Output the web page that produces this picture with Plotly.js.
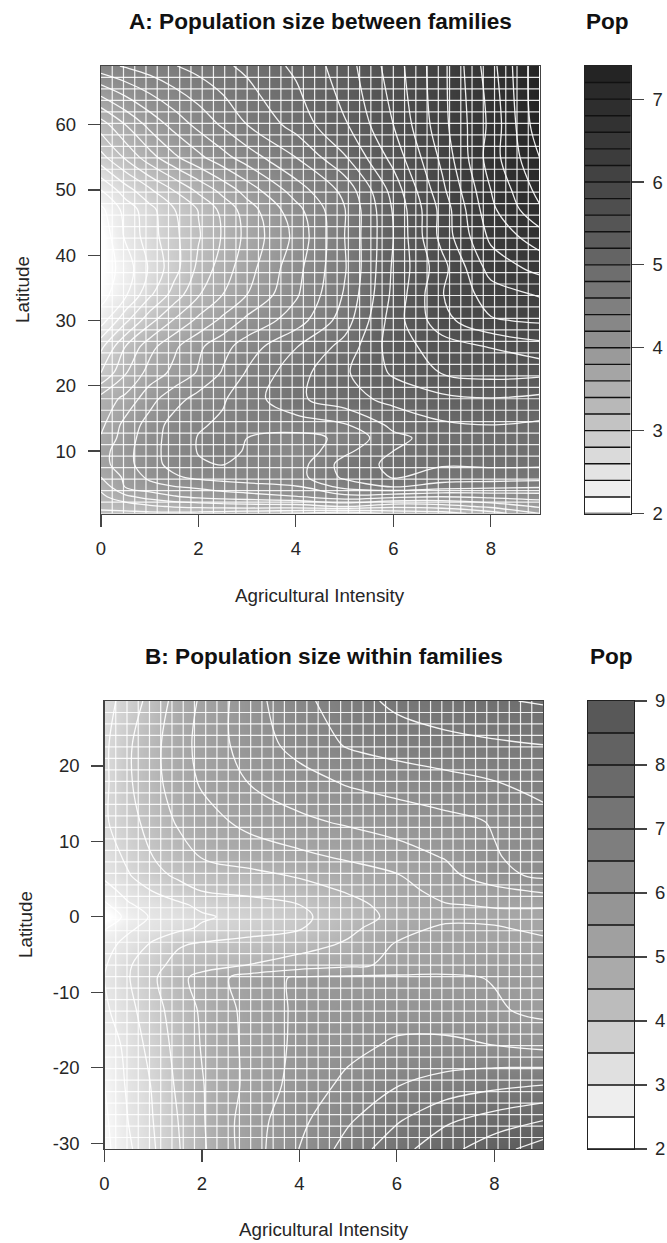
<!DOCTYPE html>
<html><head><meta charset="utf-8">
<script src="https://cdn.plot.ly/plotly-3.0.1.min.js"></script>
<style>html,body{margin:0;padding:0;background:#fff}</style></head>
<body><div id="chart" style="width:667px;height:1243px"></div>
<script>
// Panel A
var xA = [0,0.5,1,1.5,2,2.5,3,4,5,6,7,8,9];
var latA = [0.43,1.5,3,4.5,6,8,10,12,14,18,22,26,30,34,38,43,47,50,55,60,69];
var zA = [
[3.15,3.15,3.15,3.15,3.13,3.09,3.05,2.98,2.85,3.05,3.10,3.30,3.60],
[3.25,3.28,3.36,3.42,3.45,3.48,3.50,3.50,3.60,3.45,3.50,3.65,3.83],
[3.35,3.55,3.68,3.78,3.85,3.89,3.92,3.99,4.13,4.05,4.00,4.05,4.08],
[3.45,3.81,3.92,3.99,4.03,4.09,4.13,4.18,4.46,4.60,4.50,4.45,4.42],
[3.60,3.84,4.05,4.17,4.25,4.28,4.30,4.32,4.64,4.82,4.72,4.72,4.70],
[3.72,3.93,4.12,4.27,4.38,4.41,4.33,4.30,4.68,4.85,4.82,4.83,4.83],
[3.72,3.93,4.13,4.28,4.41,4.47,4.38,4.25,4.55,4.80,4.87,4.88,4.85],
[3.62,3.90,4.12,4.28,4.41,4.47,4.40,4.33,4.44,4.75,4.88,4.90,4.88],
[3.55,3.87,4.08,4.28,4.38,4.43,4.46,4.50,4.58,4.85,4.97,5.00,4.97],
[3.48,3.65,3.93,4.12,4.27,4.38,4.50,4.76,4.92,5.06,5.15,5.19,5.15],
[3.00,3.38,3.68,3.85,4.02,4.22,4.42,4.72,4.97,5.23,5.41,5.47,5.45],
[2.75,3.20,3.53,3.76,3.96,4.13,4.30,4.59,4.87,5.30,5.50,5.61,5.73],
[2.30,2.75,3.13,3.42,3.65,3.85,4.05,4.30,4.70,5.30,5.73,5.98,6.03],
[2.12,2.36,2.76,3.08,3.38,3.60,3.80,4.17,4.62,5.25,5.79,6.10,6.22],
[2.08,2.28,2.63,2.92,3.25,3.50,3.72,4.13,4.58,5.23,5.73,6.28,6.46],
[2.05,2.43,2.71,2.95,3.18,3.42,3.66,4.05,4.60,5.20,5.87,6.45,6.72],
[2.15,2.47,2.73,2.99,3.21,3.46,3.70,4.13,4.59,5.22,5.87,6.55,6.97],
[2.40,2.71,2.97,3.21,3.45,3.67,3.89,4.30,4.66,5.28,5.95,6.60,7.07],
[2.93,3.23,3.52,3.76,3.95,4.13,4.30,4.60,4.98,5.47,6.05,6.70,7.20],
[3.30,3.60,3.86,4.07,4.26,4.43,4.60,4.88,5.18,5.60,6.13,6.65,7.33],
[4.33,4.42,4.50,4.59,4.67,4.76,4.85,5.04,5.30,5.70,6.14,6.72,7.35]
];
var levelsA = [2,2.1,2.3,2.5,2.7,2.9,3.1,3.3,3.5,3.7,3.9,4.1,4.3,4.5,4.7,4.9,5.1,5.3,5.5,5.7,5.9,6.1,6.3,6.5,6.7,6.9,7.1,7.3,7.4];
var graysA  = [255,255,238,228,218,205,195,184,175,165,154,143,135,127,118,110,100,92,85,78,72,66,60,56,50,46,42,36,34];
var barTicksA = [2,3,4,5,6,7];

// Panel B
var xB = [0,0.5,1,1.5,2,3,4,5,6,7,8,9];
var latB = [-30.76,-27,-22.3,-17,-12.4,-8.1,-6.4,-3.7,-1.5,0,1.6,3.5,5.5,7.9,12.6,17.8,22.8,28.6];
var zB = [
[2.35,2.92,3.45,3.95,4.42,5.27,6.01,6.70,7.31,7.83,8.30,8.75],
[2.40,3.02,3.50,3.99,4.45,5.27,5.88,6.44,6.95,7.42,7.73,8.00],
[2.50,3.10,3.55,4.08,4.47,5.15,5.70,6.13,6.48,6.70,6.88,7.00],
[2.60,3.20,3.70,4.15,4.53,5.15,5.62,5.85,6.08,6.10,6.00,5.87],
[2.90,3.35,3.83,4.20,4.57,5.17,5.60,5.72,5.78,5.75,5.57,5.37],
[3.00,3.48,3.93,4.35,4.68,5.25,5.58,5.62,5.62,5.60,5.47,5.35],
[2.95,3.45,3.85,4.15,4.30,4.52,4.72,4.90,5.10,5.25,5.35,5.30],
[2.85,3.15,3.60,3.95,4.08,4.20,4.32,4.57,5.05,5.20,5.15,5.08],
[2.45,2.93,3.17,3.37,3.57,3.78,3.96,4.38,4.80,5.10,5.03,4.93],
[2.05,2.70,3.08,3.22,3.43,3.67,3.90,4.26,4.63,4.85,4.92,4.93],
[2.40,2.95,3.20,3.40,3.62,3.83,4.00,4.35,4.68,4.98,5.03,5.03],
[2.80,3.20,3.53,3.80,4.02,4.13,4.30,4.55,4.87,5.13,5.35,5.60],
[3.10,3.47,3.85,4.08,4.20,4.37,4.55,4.75,4.97,5.33,5.85,6.10],
[3.20,3.62,4.00,4.27,4.52,4.72,4.88,5.07,5.28,5.53,5.97,6.15],
[3.43,3.83,4.20,4.55,4.80,5.15,5.40,5.57,5.72,5.87,6.03,6.35],
[3.40,3.94,4.35,4.73,5.06,5.53,5.80,6.05,6.20,6.33,6.48,6.65],
[3.40,3.94,4.37,4.76,5.17,5.74,6.18,6.55,6.72,6.85,6.93,7.00],
[3.30,3.73,4.20,4.68,5.08,5.82,6.36,6.78,7.12,7.30,7.45,7.55]
];
var levelsB = [2,2.25,2.75,3.25,3.75,4.25,4.75,5.25,5.75,6.25,6.75,7.25,7.75,8.25,8.75,9];
var graysB  = [255,255,238,224,207,188,170,160,149,138,126,116,106,98,88,84];
var barTicksB = [2,3,4,5,6,7,8,9];

var xTicks = [0,2,4,6,8];
var latTicksA = [10,20,30,40,50,60];
var latTicksB = [-30,-20,-10,0,10,20];
var latLabelsB = ['-30','-20','-10','0','10','20'];
var GRID_CELLS = 39;

var W = 667, H = 1243, FONT = '"Liberation Sans", Arial, sans-serif', INK = '#262626';
function scale(levels, grays) {
  var lo = levels[0], hi = levels[levels.length-1];
  return levels.map(function(v,i){ var g = grays[i]; return [(v-lo)/(hi-lo),'rgb('+g+','+g+','+g+')']; });
}
function domX(a,b){ return [a/W,b/W]; }
function domY(top,bot){ return [1-bot/H,1-top/H]; }
function gridTrace(xr, yr, xa, ya) {
  var xs=[], ys=[], i, v;
  for (i=1;i<GRID_CELLS;i++){ v=xr[0]+(xr[1]-xr[0])*i/GRID_CELLS; xs.push(v,v,null); ys.push(yr[0],yr[1],null); }
  for (i=1;i<GRID_CELLS;i++){ v=yr[0]+(yr[1]-yr[0])*i/GRID_CELLS; xs.push(xr[0],xr[1],null); ys.push(v,v,null); }
  return {type:'scatter',mode:'lines',x:xs,y:ys,xaxis:xa,yaxis:ya,hoverinfo:'skip',showlegend:false,
          line:{color:'rgba(255,255,255,0.88)',width:1.2}};
}
function surface(x,y,z,cs,lo,hi,size,xa,ya){
  return {type:'contour',x:x,y:y,z:z,xaxis:xa,yaxis:ya,colorscale:cs,zmin:lo,zmax:hi,showscale:false,hoverinfo:'skip',
    autocontour:false,contours:{coloring:'heatmap',start:lo,end:hi,size:size,showlines:true},
    line:{color:'rgba(255,255,255,0.92)',width:1.3,smoothing:1}};
}
function bar(lo,hi,size,cs,xa,ya){
  return {type:'contour',x:[0,1],y:[lo,hi],z:[[lo,lo],[hi,hi]],xaxis:xa,yaxis:ya,colorscale:cs,zmin:lo,zmax:hi,showscale:false,hoverinfo:'skip',
    autocontour:false,contours:{coloring:'fill',start:lo,end:hi,size:size,showlines:true},
    line:{color:'#111',width:1.4,smoothing:0}};
}
var tickFont = {family:FONT,size:18.5,color:INK};
function xAxis(dom,anchor,range,ticks){
  return {domain:dom,anchor:anchor,range:range,tickmode:'array',tickvals:ticks,ticktext:ticks.map(String),ticks:'outside',ticklen:12,tickwidth:1.2,tickcolor:'#444',
    showgrid:false,zeroline:false,showline:true,mirror:true,linecolor:'#444',linewidth:1.2,tickfont:tickFont,ticklabelstandoff:6};
}
function yAxis(dom,anchor,range,ticks,labels){
  return {domain:dom,anchor:anchor,range:range,tickmode:'array',tickvals:ticks,ticktext:labels,ticks:'outside',ticklen:12,tickwidth:1.2,tickcolor:'#444',
    showgrid:false,zeroline:false,showline:true,mirror:true,linecolor:'#444',linewidth:1.2,tickfont:tickFont,ticklabelstandoff:8};
}
function barX(dom,anchor){
  return {domain:dom,anchor:anchor,range:[0,1],showticklabels:false,ticks:'',showgrid:false,zeroline:false,showline:true,mirror:true,linecolor:'#222',linewidth:1.2};
}
function barY(dom,anchor,range,ticks,standoff){
  return {domain:dom,anchor:anchor,side:'right',range:range,tickmode:'array',tickvals:ticks,ticks:'outside',ticklen:12,tickwidth:1.2,tickcolor:'#444',
    showgrid:false,zeroline:false,showline:true,mirror:true,linecolor:'#222',linewidth:1.2,tickfont:tickFont,ticklabelstandoff:standoff};
}
function label(text,xp,yp,size,bold,angle){
  return {xref:'paper',yref:'paper',x:xp/W,y:1-yp/H,text:bold?'<b>'+text+'</b>':text,showarrow:false,xanchor:'center',yanchor:'middle',
    textangle:angle||0,font:{family:FONT,size:size,color:bold?'#111':INK}};
}
var csA = scale(levelsA,graysA), csB = scale(levelsB,graysB);
var rangeXA=[0,9], rangeYA=[0.43,69], rangeXB=[0,9], rangeYB=[-30.76,28.6];
var data = [
  surface(xA,latA,zA,csA,2,7.4,0.2,'x','y'),
  gridTrace(rangeXA,rangeYA,'x','y'),
  bar(2,7.4,0.2,csA,'x2','y2'),
  surface(xB,latB,zB,csB,2,9,0.5,'x3','y3'),
  gridTrace(rangeXB,rangeYB,'x3','y3'),
  bar(2,9,0.5,csB,'x4','y4')
];
var layout = {
  width:W,height:H,margin:{l:0,r:0,t:0,b:0},paper_bgcolor:'#fff',plot_bgcolor:'#fff',showlegend:false,
  xaxis: xAxis(domX(101,539.5),'y',rangeXA,xTicks),
  yaxis: yAxis(domY(66,513.5),'x',rangeYA,latTicksA,latTicksA.map(String)),
  xaxis2: barX(domX(585,630.5),'y2'),
  yaxis2: barY(domY(66,513.5),'x2',[2,7.4],barTicksA,5),
  xaxis3: xAxis(domX(104.5,543),'y3',rangeXB,xTicks),
  yaxis3: yAxis(domY(701,1149),'x3',rangeYB,latTicksB,latLabelsB),
  xaxis4: barX(domX(588,634),'y4'),
  yaxis4: barY(domY(701,1149),'x4',[2,9],barTicksB,4),
  annotations:[
    label('A: Population size between families',320,21,22.6,true),
    label('Pop',607.5,21,22.6,true),
    label('Agricultural Intensity',319.5,595,18.8,false),
    label('Latitude',22,290,18.8,false,-90),
    label('B: Population size within families',323.5,656,22.6,true),
    label('Pop',611,656,22.6,true),
    label('Agricultural Intensity',323.5,1229,18.8,false),
    label('Latitude',25,925,18.8,false,-90)
  ]
};
Plotly.newPlot('chart',data,layout,{staticPlot:true,displayModeBar:false});
</script></body></html>
